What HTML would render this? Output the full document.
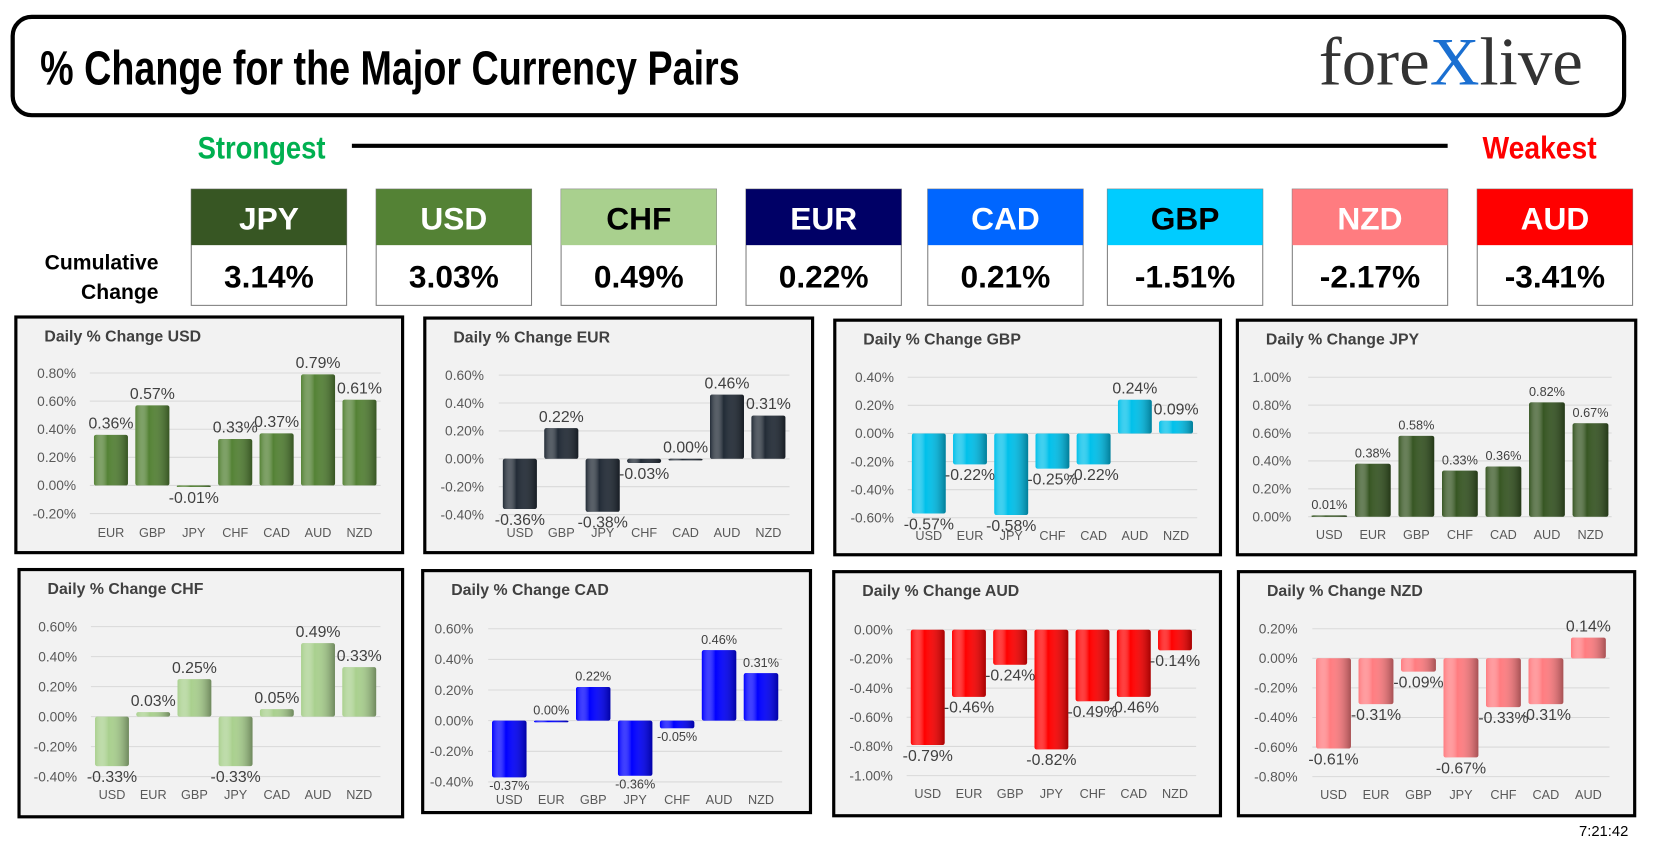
<!DOCTYPE html>
<html><head><meta charset="utf-8"><style>
html,body{margin:0;padding:0;background:#fff;width:1659px;height:867px;overflow:hidden}
svg{display:block}
.ttl{font-family:"Liberation Sans Narrow","Liberation Sans",sans-serif;font-weight:bold}
.t{font-family:"Liberation Sans",sans-serif}
</style></head><body>
<svg id="root" width="1659" height="867" viewBox="0 0 1570 820.5" xmlns="http://www.w3.org/2000/svg">
<rect x="0" y="0" width="1570" height="821" fill="#fff"/>
<rect x="12" y="16" width="1525" height="93" rx="18" fill="#fff" stroke="#000" stroke-width="4"/>
<text class="ttl" x="38" y="80" font-size="46" textLength="662" lengthAdjust="spacingAndGlyphs" fill="#000">% Change for the Major Currency Pairs</text>
<g>
<text x="1248" y="80" font-family="Liberation Serif,serif" font-size="64" fill="#333" textLength="250" lengthAdjust="spacingAndGlyphs">fore<tspan fill="#1a6fd1">X</tspan>live</text>
</g>
<text class="ttl" x="187" y="150" font-size="30" fill="#00b050" textLength="121" lengthAdjust="spacingAndGlyphs">Strongest</text>
<line x1="333" y1="138" x2="1370" y2="138" stroke="#000" stroke-width="4"/>
<text class="ttl" x="1403" y="150" font-size="30" fill="#ff0000" textLength="108" lengthAdjust="spacingAndGlyphs">Weakest</text>
<text class="ttl" x="150" y="255" font-size="20" text-anchor="end" fill="#000">Cumulative</text>
<text class="ttl" x="150" y="283" font-size="20" text-anchor="end" fill="#000">Change</text>
<g id="boxes"></g>
<g id="charts"></g>
<text class="t" x="1541" y="791" font-size="14" text-anchor="end" fill="#000">7:21:42</text>
<defs id="defs"></defs>
</svg>
<script>
const NS="http://www.w3.org/2000/svg";
const boxCurrencies=["JPY","USD","CHF","EUR","CAD","GBP","NZD","AUD"];
const boxValues=["3.14%","3.03%","0.49%","0.22%","0.21%","-1.51%","-2.17%","-3.41%"];
const boxColors=["#375623","#548235","#a9d08e","#000066","#0066ff","#00ccff","#ff7c80","#ff0000"];
const boxTextColors=["#fff","#fff","#000","#fff","#fff","#000","#fff","#fff"];
const boxX=[181,356,531,706,878,1048,1223,1398];

const usdCats=["EUR","GBP","JPY","CHF","CAD","AUD","NZD"];
const usdVals=[0.36,0.57,-0.01,0.33,0.37,0.79,0.61];
const eurCats=["USD","GBP","JPY","CHF","CAD","AUD","NZD"];
const eurVals=[-0.36,0.22,-0.38,-0.03,0.00,0.46,0.31];
const gbpCats=["USD","EUR","JPY","CHF","CAD","AUD","NZD"];
const gbpVals=[-0.57,-0.22,-0.58,-0.25,-0.22,0.24,0.09];
const jpyCats=["USD","EUR","GBP","CHF","CAD","AUD","NZD"];
const jpyVals=[0.01,0.38,0.58,0.33,0.36,0.82,0.67];
const chfCats=["USD","EUR","GBP","JPY","CAD","AUD","NZD"];
const chfVals=[-0.33,0.03,0.25,-0.33,0.05,0.49,0.33];
const cadCats=["USD","EUR","GBP","JPY","CHF","AUD","NZD"];
const cadVals=[-0.37,0.00,0.22,-0.36,-0.05,0.46,0.31];
const audCats=["USD","EUR","GBP","JPY","CHF","CAD","NZD"];
const audVals=[-0.79,-0.46,-0.24,-0.82,-0.49,-0.46,-0.14];
const nzdCats=["USD","EUR","GBP","JPY","CHF","CAD","AUD"];
const nzdVals=[-0.61,-0.31,-0.09,-0.67,-0.33,-0.31,0.14];

function mk(tag,attrs,parent){const e=document.createElementNS(NS,tag);for(const k in attrs)e.setAttribute(k,attrs[k]);parent.appendChild(e);return e;}

const bg=document.getElementById('boxes');
boxCurrencies.forEach((c,i)=>{
  const g=mk('g',{},bg);
  
  
  mk('rect',{x:boxX[i],y:179,width:147,height:110,fill:'#fff',stroke:'#7f7f7f','stroke-width':1},g);
  mk('rect',{x:boxX[i],y:179,width:147,height:53,fill:boxColors[i]},g);
  const h=mk('text',{x:boxX[i]+73.5,y:217,'text-anchor':'middle','font-size':30,fill:boxTextColors[i],class:'ttl'},g);
  h.textContent=c;
  const v=mk('text',{x:boxX[i]+73.5,y:272,'text-anchor':'middle','font-size':30,fill:'#000',class:'ttl'},g);
  v.textContent=boxValues[i];
});

const defs=document.getElementById('defs');
function grad(id,col){
  const lg=mk('linearGradient',{id:id,x1:0,y1:0,x2:1,y2:0},defs);
  mk('stop',{offset:'0%','stop-color':col,'stop-opacity':1},lg);
  mk('stop',{offset:'40%','stop-color':'#fff','stop-opacity':0.0},lg);
  mk('stop',{offset:'100%','stop-color':'#000','stop-opacity':0.35},lg);
}
const panels=[
 {n:'usd',title:'Daily % Change USD',cats:usdCats,vals:usdVals,col:'#548235',box:[15,300,366,223],x0:105,dx:39.2,vTop:0.8,pTop:353,vBot:-0.2,pBot:486,tickR:72,xl:508,min:-0.2,max:0.8,lf:15},
 {n:'eur',title:'Daily % Change EUR',cats:eurCats,vals:eurVals,col:'#222b36',box:[402,301,367,222],x0:492,dx:39.2,vTop:0.6,pTop:355,vBot:-0.4,pBot:487,tickR:458,xl:508,min:-0.4,max:0.6,lf:15},
 {n:'gbp',title:'Daily % Change GBP',cats:gbpCats,vals:gbpVals,col:'#00c0ea',box:[790,303,365,222],x0:879,dx:39,vTop:0.4,pTop:357,vBot:-0.6,pBot:490,tickR:846,xl:511,min:-0.6,max:0.4,lf:15},
 {n:'jpy',title:'Daily % Change JPY',cats:jpyCats,vals:jpyVals,col:'#375623',box:[1171,303,377,222],x0:1258,dx:41.2,vTop:1.0,pTop:357,vBot:0,pBot:489,tickR:1222,xl:510,min:0,max:1.0,lf:12},
 {n:'chf',title:'Daily % Change CHF',cats:chfCats,vals:chfVals,col:'#a9d08e',box:[18,539,363,234],x0:106,dx:39,vTop:0.6,pTop:593,vBot:-0.4,pBot:735,tickR:73,xl:756,min:-0.4,max:0.6,lf:15},
 {n:'cad',title:'Daily % Change CAD',cats:cadCats,vals:cadVals,col:'#0000ff',box:[400,540,367,229],x0:482,dx:39.7,vTop:0.6,pTop:595,vBot:-0.4,pBot:740,tickR:448,xl:761,min:-0.4,max:0.6,lf:12},
 {n:'aud',title:'Daily % Change AUD',cats:audCats,vals:audVals,col:'#ff0000',box:[789,541,366,231],x0:878,dx:39,vTop:0,pTop:596,vBot:-1.0,pBot:734,tickR:845,xl:755,min:-1.0,max:0,lf:15},
 {n:'nzd',title:'Daily % Change NZD',cats:nzdCats,vals:nzdVals,col:'#ff7c80',box:[1172,541,375,231],x0:1262,dx:40.2,vTop:0.2,pTop:595,vBot:-0.8,pBot:735,tickR:1228,xl:756,min:-0.8,max:0.2,lf:15}
];
const cg=document.getElementById('charts');
panels.forEach(p=>{
  grad('g-'+p.n,p.col);
  const y=v=>p.pTop+(p.vTop-v)*(p.pBot-p.pTop)/(p.vTop-p.vBot);
  const x=i=>p.x0+i*p.dx;
  const g=mk('g',{},cg);
  
  
  mk('rect',{x:p.box[0],y:p.box[1],width:p.box[2],height:p.box[3],fill:'#f2f2f2',stroke:'#000','stroke-width':3},g);
  const t=mk('text',{x:p.box[0]+27,y:p.box[1]+23,'font-size':15,'font-weight':'bold',fill:'#404040',class:'t'},g);
  
  
  t.textContent=p.title;
  const gl=p.x0-20, gr=x(6)+20;
  for(let k=0;k<=5;k++){
    const v=+(p.min+k*0.2).toFixed(2);
    const yy=y(v);
    mk('line',{x1:gl,y1:yy,x2:gr,y2:yy,stroke:'#d9d9d9','stroke-width':1},g);
    const tl=mk('text',{x:p.tickR,y:yy+4.5,'text-anchor':'end','font-size':13,fill:'#595959',class:'t'},g);
    
    
    tl.textContent=v.toFixed(2)+'%';
  }
  const bw=p.dx*0.82;
  p.vals.forEach((v,i)=>{
    const y0=y(0), y1=y(v);
    const top=Math.min(y0,y1), h=Math.max(Math.abs(y1-y0),1.5);
    const b=mk('rect',{x:x(i)-bw/2,y:top,width:bw,height:h,fill:p.col,rx:2},g);
    
    
    mk('rect',{x:x(i)-bw/2,y:top,width:bw,height:h,fill:'url(#g-'+p.n+')',rx:2},g);
    const ly=v>=0? top-6 : top+h+p.lf;
    const l=mk('text',{x:x(i),y:ly,'text-anchor':'middle','font-size':p.lf,fill:'#404040',class:'t'},g);
    
    
    l.textContent=v.toFixed(2)+'%';
    const c=mk('text',{x:x(i),y:p.xl,'text-anchor':'middle','font-size':12,fill:'#595959',class:'t'},g);
    
    
    c.textContent=p.cats[i];
  });
});
</script>
</body></html>
